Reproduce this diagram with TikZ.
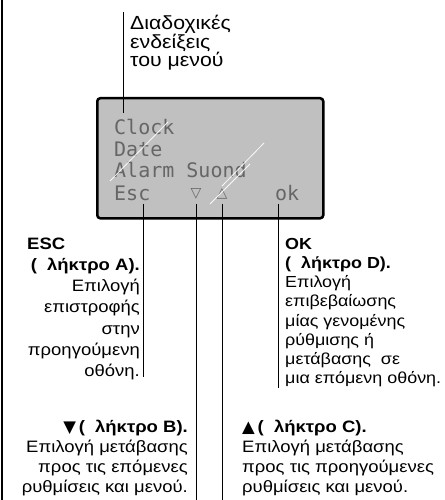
\documentclass[tikz,border=0pt]{standalone}
\usepackage{fontspec}
\setmainfont{Liberation Sans}[FakeStretch=1.12]
\newfontfamily\lcdfont{DejaVu Sans Mono}
\newfontfamily\symfont{DejaVu Sans}
\definecolor{lcdgray}{RGB}{192,192,192}
\begin{document}
\begin{tikzpicture}[x=1pt,y=-1pt,
  conn/.style={line width=0.9pt, black},
  lbl/.style={inner sep=0pt, font=\fontsize{16.5}{20}\selectfont},
  lcdtxt/.style={inner sep=0pt, text=black!60, font=\lcdfont\fontsize{20}{22}\selectfont},
  glare/.style={white, line width=0.8pt, opacity=0.9}]
\useasboundingbox (0,0) rectangle (444,500);
% left frame line
\draw[line width=1.3pt] (2,0) -- (2,500);
% LCD
\node[draw, line width=2.5pt, rounded corners=3pt, fill=lcdgray, minimum width=226pt,
      minimum height=120pt, anchor=north west, inner sep=0pt] (lcd) at (96,97) {};
\node[lcdtxt, anchor=base west] (clock) at (114,134) {Clock};
\node[lcdtxt, anchor=base west] (date) at (114,156) {Date};
\node[lcdtxt, anchor=base west] (alarm) at (114,177) {Alarm Suond};
\node[lcdtxt, anchor=base west] (esc) at (114,200) {Esc};
\node[lcdtxt, anchor=base, font=\symfont\fontsize{14}{15}\selectfont] (down) at (196,197) {▽};
\node[lcdtxt, anchor=base, font=\symfont\fontsize{14}{15}\selectfont] (up) at (222,197) {△};
\node[lcdtxt, anchor=base west] (ok) at (275,200) {ok};
% glare
\coordinate (g1a) at (110,181); \coordinate (g1b) at (168,122);
\coordinate (g2a) at (210,204); \coordinate (g2b) at (250,164);
\coordinate (g3a) at (222,186); \coordinate (g3b) at (264,143);
\draw[glare] (g1a) -- (g1b);
\draw[glare] (g2a) -- (g2b);
\draw[glare] (g3a) -- (g3b);
% labels
\node[lbl, anchor=north west, align=left, font=\fontsize{19}{18.5}\selectfont] (menu) at (130,15)
  {Διαδοχικές\\ενδείξεις\\του μενού};
\node[lbl, anchor=north west, font=\bfseries\fontsize{16.5}{20}\selectfont] (esclbl) at (27,238) {ESC};
\node[lbl, anchor=north east, align=right, font=\fontsize{16.5}{21.2}\selectfont] (esctxt) at (140,258)
  {\textbf{(\ \ λήκτρο A).}\\Επιλογή\\επιστροφής\\στην\\προηγούμενη\\οθόνη.};
\node[lbl, anchor=north west, align=left, font=\fontsize{16}{19.2}\selectfont] (oktxt) at (285,238)
  {\textbf{OK}\\\textbf{(\ \ λήκτρο D).}\\Επιλογή\\επιβεβαίωσης\\μίας γενομένης\\ρύθμισης ή\\μετάβασης\ \ σε\\μια επόμενη οθόνη.};
\node[lbl, anchor=north east, align=right] (downtxt) at (188,420)
  {\textbf{{\symfont ▼}\,(\ \ λήκτρο B).}\\Επιλογή μετάβασης\\προς τις επόμενες\\ρυθμίσεις και μενού.};
\node[lbl, anchor=north west, align=left] (uptxt) at (242,420)
  {\textbf{{\symfont ▲}\,(\ \ λήκτρο C).}\\Επιλογή μετάβασης\\προς τις προηγούμενες\\ρυθμίσεις και μενού.};
% connectors
\coordinate (m1) at (123,12); \coordinate (m2) at (123,113);
\coordinate (e1) at (143,204); \coordinate (e2) at (143,377);
\coordinate (d1) at (196,204); \coordinate (d2) at (196,500);
\coordinate (u1) at (222,204); \coordinate (u2) at (222,500);
\coordinate (o1) at (278,204); \coordinate (o2) at (278,388);
\draw[conn] (m1) -- (m2);
\draw[conn] (e1) -- (e2);
\draw[conn] (d1) -- (d2);
\draw[conn] (u1) -- (u2);
\draw[conn] (o1) -- (o2);
\end{tikzpicture}
\end{document}
